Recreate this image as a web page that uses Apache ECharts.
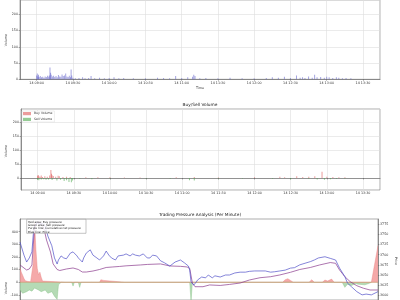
<!DOCTYPE html>
<html><head><meta charset="utf-8">
<script src="https://cdn.jsdelivr.net/npm/echarts@6/dist/echarts.min.js"></script>
<style>html,body{margin:0;padding:0;background:#fff}#c{width:400px;height:300px}</style>
</head><body><div id="c"></div>
<script>
// ---- tick labels ----
const timeTickValues = [540,570,600,630,660,690,720,750,780,810];
const timeTickLabels = ['14 09:00','14 09:30','14 10:00','14 10:30','14 11:00','14 11:30','14 12:00','14 12:30','14 13:00','14 13:30'];

// ---- panel 1: volume (minutes since midnight) ----
const volTimes = [540,540.5,541,541.5,542,543,544,545,546,547,548,549,550,550.5,551,551.5,552,553,554,555,556,557,558,559,560,561,562,563,564,565,566,567,568,568.5,569,570,572,575,578,580,583,585,588,592,596,600,604,608,612,620,630,640,645,650,655,660,665,669,670,671,675,680,690,700,710,720,730,735,740,745,750,755,758,760,762,765,768,770,772,775,778,780,782,785,788,790,793,796,800];
const volValues = [12,18,9,14,7,10,6,8,5,9,7,11,8,12,36,20,14,9,11,7,10,6,13,9,8,15,10,12,18,9,7,11,6,30,12,5,3,4,6,3,4,10,3,5,3,4,6,3,4,3,3,5,4,3,10,4,6,8,14,10,3,4,3,5,3,3,4,6,5,8,4,12,5,6,4,9,5,14,6,7,5,8,6,4,6,5,3,4,3];

// ---- panel 2: buy / sell volume ----
const buyTimes = [540,540.5,541,542,543,544,546,548,550,551,551.5,552,553,555,557,558,561,564,567,580,590,600,612,625,655,670,690,720,741,745,755,760,765,770,776,780,785,790,795];
const buyValues = [8,11,6,5,9,4,6,5,9,29,15,10,7,5,8,6,4,5,4,3,3,3,2,2,3,4,2,3,5,3,6,4,5,6,23,5,4,3,3];
const sellTimes = [540,541,543,545,547,549,552,556,559,562,564,566,568,569,575,585,600,630,650,666,670,690,710,735,750,765,772,778,783,788,795];
const sellValues = [-6,-8,-5,-4,-6,-5,-7,-9,-6,-11,-8,-14,-15,-9,-3,-4,-2,-2,-3,-8,-9,-2,-2,-3,-4,-3,-5,-6,-4,-3,-2];

// ---- panel 3: pressure ----
const buyPressTimes = [540,541,542,543,544,545,546,548,549,550,551,552,553,554,555,556,557,558,574,575,576,589,590,591,600,601,603,604,619,620,621,639,640,641,659,660,661,699,700,701,719,720,721,738,740,742,744,746,749,750,751,758,760,762,768,770,772,775,777,779,780,781,789,790,791,799,800,801,805,810];
const buyPressValues = [113,80,55,30,12,4,6,5,20,150,470,260,110,60,80,40,10,0,0,10,0,0,8,0,0,20,15,0,0,10,0,0,12,0,0,8,0,0,10,0,0,12,0,0,20,28,15,0,0,15,0,0,20,0,0,18,10,25,0,0,10,0,0,10,0,0,8,0,0,290];
const sellPressTimes = [540,542,545,547,549,551,554,556,559,561,564,566,568,569,570,571,579,580,581,584,585,586,594,595,596,609,610,611,624,625,626,639,640,641,668,669,670,689,690,691,709,710,711,729,730,731,783,785,787,790,793,795,800,803,805];
const sellPressValues = [-61,-87,-74,-61,-70,-45,-61,-74,-61,-87,-74,-110,-135,-20,-8,0,0,-30,0,0,-40,0,0,-10,0,0,-15,0,0,-8,0,0,-12,0,0,-150,0,0,-6,0,0,-8,0,0,-6,0,0,-40,-15,-25,-10,-15,-20,-10,0];
const netTimes = [540,543,545,547,549,550,551,553,555,558,560,563,565,568,570,575,580,584,587,590,595,600,605,610,615,620,631,636,646,653,661,666,668,670,672,678,683,691,698,706,713,721,729,736,744,751,759,766,774,778,781,785,789,794,799,804,810];
const netValues = [137,113,97,105,137,295,429,476,476,429,334,239,145,101,93,105,113,101,81,81,89,101,117,121,125,130,137,141,145,129,126,121,110,-5,-35,-35,-21,-25,-17,-6,18,36,44,58,79,101,117,137,156,150,97,44,5,-27,-47,-61,-61];
const priceTimes = [540,543,545,547,549,550,551,553,554,555,557,559,561,564,566,568,569,571,573,575,578,580,583,584,587,588,590,593,595,598,600,603,605,607,609,612,614,615,618,620,623,625,627,630,633,636,638,640,643,646,649,653,657,661,664,667,668,669,671,673,674,677,680,682,685,687,691,695,698,702,706,710,713,717,721,725,729,732,736,740,744,747,751,755,759,762,765,766,770,774,778,781,785,787,790,794,798,801,805,810];
const priceValues = [3731,3699,3682,3692,3707,3749,3770,3779,3776,3775,3777,3771,3746,3722,3692,3677,3687,3697,3692,3690,3704,3707,3697,3692,3682,3692,3704,3712,3699,3692,3687,3697,3709,3699,3692,3687,3697,3699,3699,3702,3697,3702,3699,3697,3702,3692,3692,3699,3697,3685,3680,3672,3682,3687,3680,3672,3662,3633,3625,3633,3638,3645,3643,3650,3643,3648,3645,3650,3650,3655,3657,3657,3659,3660,3660,3660,3657,3658,3660,3662,3667,3668,3675,3679,3683,3687,3692,3693,3695,3691,3687,3667,3646,3630,3621,3609,3601,3603,3601,3609];

const zip = (ts, vs) => ts.map((t, i) => [t, vs[i]]);
const FONT = 'DejaVu Sans';
const tickFmt = v => { const i = timeTickValues.indexOf(Math.round(v)); return (i >= 0 && Math.abs(v - timeTickValues[i]) < 1e-6) ? timeTickLabels[i] : ''; };
const numFmt = v => String(Math.round(v));
const lab = {fontFamily: FONT, fontSize: 3.3, color: '#333'};
const spl = {show: true, lineStyle: {color: '#dedede', width: 0.6}};
const axLine = {show: true, lineStyle: {color: '#555', width: 0.6}};
const tick = {show: true, length: 1.4, lineStyle: {color: '#555', width: 0.5}};

function timeAxis(gi, minV, maxV, showLab) {
  return {type: 'value', gridIndex: gi, min: minV, max: maxV, minInterval: 30, maxInterval: 30, splitNumber: 10,
    axisLine: axLine, axisTick: tick, splitLine: showLab ? spl : {show: false},
    axisLabel: Object.assign({show: showLab, margin: 2, formatter: tickFmt, showMinLabel: false, showMaxLabel: false}, lab)};
}
function valAxis(gi, minV, maxV, step, pos, showSplit, showMin) {
  return {type: 'value', gridIndex: gi, min: minV, max: maxV, minInterval: step, maxInterval: step, position: pos || 'left',
    axisLine: axLine, axisTick: tick, splitLine: showSplit ? spl : {show: false},
    axisLabel: Object.assign({margin: 2, formatter: numFmt, showMinLabel: !!showMin, showMaxLabel: false}, lab)};
}

const chart = echarts.init(document.getElementById('c'), null, {renderer: 'canvas'});
chart.setOption({
  animation: false,
  backgroundColor: '#fff',
  grid: [
    {left: 20, top: 0, width: 360, height: 79.3, show: true, borderColor: '#777', borderWidth: 0.6},
    {left: 21, top: 109, width: 359, height: 81, show: true, borderColor: '#777', borderWidth: 0.6},
    {left: 20, top: 219, width: 358, height: 81, show: true, borderColor: '#777', borderWidth: 0.6}
  ],
  xAxis: [
    timeAxis(0, 526.2, 824.1, true),
    timeAxis(1, 526.2, 824.1, true),
    {type: 'value', gridIndex: 2, min: 540, max: 810, interval: 30, axisLabel: {show: false}, axisTick: {show: false}, splitLine: {show: false}, axisLine: {show: false}}
  ],
  yAxis: [
    valAxis(0, 0, 244, 50, 'left', true, true),
    valAxis(1, -43, 248, 50, 'left', true, false),
    valAxis(2, -140, 500, 100, 'left', false, false),
    valAxis(2, 3588.4, 3788, 25, 'right', false, false)
  ],
  legend: {
    data: ['Buy Volume', 'Sell Volume'], orient: 'vertical', left: 22, top: 111,
    icon: 'rect', itemWidth: 8, itemHeight: 3.2, itemGap: 2.6, padding: [1, 2, 1, 1],
    borderColor: '#ddd', borderWidth: 0.5, backgroundColor: 'rgba(255,255,255,0.85)',
    textStyle: {fontFamily: FONT, fontSize: 3.1, color: '#333', padding: [0, 0, 0, -2]}
  },
  graphic: [
    {type: 'text', left: 'center', top: 102.5, style: {text: 'Buy/Sell Volume', fontFamily: FONT, fontSize: 4.3, fill: '#222'}},
    {type: 'text', left: 'center', top: 212.5, style: {text: 'Trading Pressure Analysis (Per Minute)', fontFamily: FONT, fontSize: 4.3, fill: '#222'}},
    {type: 'text', x: 200, y: 88, style: {text: 'Time', fontFamily: FONT, fontSize: 3.3, fill: '#333', align: 'center', verticalAlign: 'middle'}},
    {type: 'text', x: 6.5, y: 40, rotation: Math.PI / 2, style: {text: 'Volume', fontFamily: FONT, fontSize: 3.3, fill: '#333', align: 'center', verticalAlign: 'middle'}},
    {type: 'text', x: 6.5, y: 151, rotation: Math.PI / 2, style: {text: 'Volume', fontFamily: FONT, fontSize: 3.3, fill: '#333', align: 'center', verticalAlign: 'middle'}},
    {type: 'text', x: 6, y: 288, rotation: Math.PI / 2, style: {text: 'Volume', fontFamily: FONT, fontSize: 3.3, fill: '#333', align: 'center', verticalAlign: 'middle'}},
    {type: 'text', x: 396, y: 261, rotation: -Math.PI / 2, style: {text: 'Price', fontFamily: FONT, fontSize: 3.3, fill: '#333', align: 'center', verticalAlign: 'middle'}},
    {type: 'rect', shape: {x: 26.7, y: 219.3, width: 59.3, height: 14}, style: {fill: 'rgba(255,255,255,0.85)', stroke: '#888', lineWidth: 0.5}, z: 100},
    {type: 'text', x: 28, y: 220.2, z: 101, style: {text: 'Red area: Buy pressure\nGreen area: Sell pressure\nPurple line: Cumulative net pressure\nBlue line: Price', fontFamily: FONT, fontSize: 2.9, lineHeight: 3.3, fill: '#222'}}
  ],
  series: [
    {type: 'bar', name: 'Volume', xAxisIndex: 0, yAxisIndex: 0, data: zip(volTimes, volValues), barWidth: 0.7, itemStyle: {color: '#5a5ac8', opacity: 0.55}},
    {type: 'bar', name: 'Buy Volume', xAxisIndex: 1, yAxisIndex: 1, data: zip(buyTimes, buyValues), barWidth: 0.7, barGap: '-100%', itemStyle: {color: '#e05a5a', opacity: 0.6}},
    {type: 'bar', name: 'Sell Volume', xAxisIndex: 1, yAxisIndex: 1, data: zip(sellTimes, sellValues), barWidth: 0.7, barGap: '-100%', itemStyle: {color: '#4ea84e', opacity: 0.6}},
    {type: 'line', name: 'Buy pressure', xAxisIndex: 2, yAxisIndex: 2, data: zip(buyPressTimes, buyPressValues), symbol: 'none', lineStyle: {width: 0.4, color: '#e88080'}, areaStyle: {color: '#f39a9a', opacity: 0.85}},
    {type: 'line', name: 'Sell pressure', xAxisIndex: 2, yAxisIndex: 2, data: zip(sellPressTimes, sellPressValues), symbol: 'none', lineStyle: {width: 0.4, color: '#80c080'}, areaStyle: {color: '#a8d4a8', opacity: 0.85}},
    {type: 'line', name: 'Zero', xAxisIndex: 2, yAxisIndex: 2, data: [[540, 0], [810, 0]], symbol: 'none', lineStyle: {width: 0.7, color: '#c8956a'}},
    {type: 'line', name: 'Net', xAxisIndex: 2, yAxisIndex: 2, data: zip(netTimes, netValues), symbol: 'none', lineStyle: {width: 0.7, color: '#8a3a8c'}},
    {type: 'line', name: 'Price', xAxisIndex: 2, yAxisIndex: 3, data: zip(priceTimes, priceValues), symbol: 'none', lineStyle: {width: 0.7, color: '#5050c8'}}
  ]
});
</script></body></html>
